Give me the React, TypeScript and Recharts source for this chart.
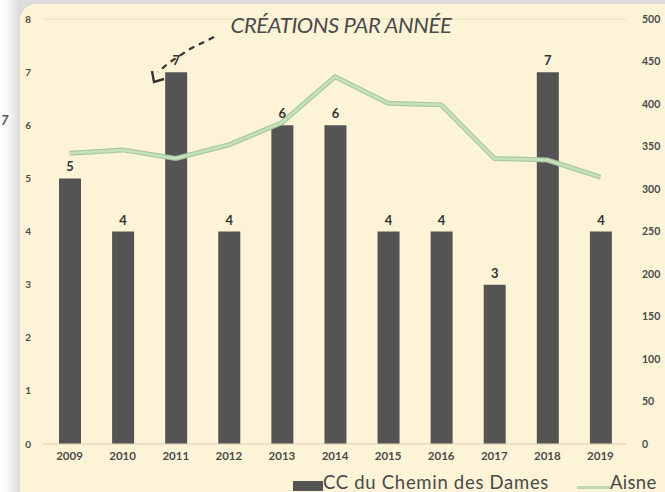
import React from "react";
import {
  ComposedChart,
  Bar,
  Line,
  XAxis,
  YAxis,
  CartesianGrid,
  LabelList,
  Legend,
  Customized,
} from "recharts";

const years = ["2009", "2010", "2011", "2012", "2013", "2014", "2015", "2016", "2017", "2018", "2019"];
const ccValues = [5, 4, 7, 4, 6, 6, 4, 4, 3, 7, 4];
const aisneValues = [342, 346, 336, 352, 378, 432, 401, 399, 336, 334, 314];
const leftTicks = [0, 1, 2, 3, 4, 5, 6, 7, 8];
const rightTicks = [0, 50, 100, 150, 200, 250, 300, 350, 400, 450, 500];
const seriesNames = ["CC du Chemin des Dames", "Aisne"];
const title = "CRÉATIONS PAR ANNÉE";

const data = years.map((y, i) => ({ year: y, cc: ccValues[i], aisne: aisneValues[i] }));

const FONT = "Lato, 'Noto Sans', sans-serif";
const TEXT = "#4a4a4a";

const renderLegend = () => (
  <div style={{ position: "relative", width: 372, height: 17, fontFamily: FONT, color: TEXT, fontSize: 18.5, lineHeight: "17px" }}>
    <div style={{ position: "absolute", left: 0, top: 7, width: 30, height: 10, background: "#555555" }} />
    <div style={{ position: "absolute", left: 30, top: 0, whiteSpace: "nowrap", letterSpacing: 0.7 }}>{seriesNames[0]}</div>
    <div style={{ position: "absolute", left: 284, top: 12, width: 34, height: 3, background: "#bcdab2" }} />
    <div style={{ position: "absolute", left: 317, top: 0, whiteSpace: "nowrap", letterSpacing: 0.3 }}>{seriesNames[1]}</div>
  </div>
);

const Decoration = () => (
  <g>
    <text x={341} y={33} textAnchor="middle" fontFamily={FONT} fontStyle="italic" fontSize={22} fill={TEXT} letterSpacing={-0.4}>
      {title}
    </text>
    <path d="M214,37 L190,49 L170,62 L158,72" stroke="#333" strokeWidth={2.2} strokeDasharray="6,5" fill="none" />
    <path d="M152,71 L154,82 L164,79" stroke="#333" strokeWidth={2.4} fill="none" />
  </g>
);

export default function App() {
  return (
    <div
      style={{
        position: "absolute",
        left: 0,
        top: 0,
        width: 665,
        height: 492,
        overflow: "hidden",
        background: "linear-gradient(to right, #ffffff 0px, #f4f4f4 10px, #dcdcdc 19px)",
      }}
    >
      <div
        style={{
          position: "absolute",
          left: 20,
          top: 4,
          width: 680,
          height: 520,
          background: "#fdf4d8",
          borderRadius: 16,
        }}
      />
      <div style={{ position: "absolute", left: 1, top: 112, fontFamily: FONT, fontStyle: "italic", fontWeight: 700, fontSize: 13, color: "#555" }}>7</div>
      <div style={{ position: "absolute", left: 0, top: 0 }}>
        <ComposedChart width={665} height={492} data={data} margin={{ top: 19, right: 0, bottom: 1, left: 8 }} barCategoryGap={0}>
          <CartesianGrid vertical={false} stroke="#ebe0c0" strokeWidth={1} />
          <XAxis
            dataKey="year"
            tickLine={false}
            axisLine={{ stroke: "#e2d8b8" }}
            tickSize={0}
            tickMargin={8}
            height={30}
            interval={0}
            tick={{ fontFamily: FONT, fontSize: 11.5, fill: TEXT, fontWeight: 700 }}
          />
          <YAxis
            yAxisId="left"
            domain={[0, 8]}
            ticks={leftTicks}
            width={35}
            axisLine={false}
            tickLine={false}
            tickSize={0}
            tickMargin={12}
            tick={{ fontFamily: FONT, fontSize: 10, fill: TEXT, fontWeight: 700 }}
          />
          <YAxis
            yAxisId="right"
            orientation="right"
            domain={[0, 500]}
            ticks={rightTicks}
            width={38}
            axisLine={false}
            tickLine={false}
            tickSize={0}
            tickMargin={15}
            tick={{ fontFamily: FONT, fontSize: 10.5, fill: TEXT, fontWeight: 700, textAnchor: "start" }}
          />
          <Bar yAxisId="left" dataKey="cc" name={seriesNames[0]} fill="#545454" barSize={22} isAnimationActive={false}>
            <LabelList dataKey="cc" position="top" offset={7} style={{ fontFamily: FONT, fontSize: 13, fontWeight: 700, fill: "#333" }} />
          </Bar>
          <Line
            yAxisId="right"
            dataKey="aisne"
            name={seriesNames[1]}
            stroke="#a9c99f"
            strokeWidth={5}
            dot={false}
            type="linear"
            isAnimationActive={false}
          />
          <Line
            yAxisId="right"
            dataKey="aisne"
            legendType="none"
            stroke="#c6e2bd"
            strokeWidth={2.5}
            dot={false}
            type="linear"
            isAnimationActive={false}
          />
          <Legend content={renderLegend} wrapperStyle={{ left: 293, top: 474, width: 372 }} />
          <Customized component={Decoration} />
        </ComposedChart>
      </div>
    </div>
  );
}
